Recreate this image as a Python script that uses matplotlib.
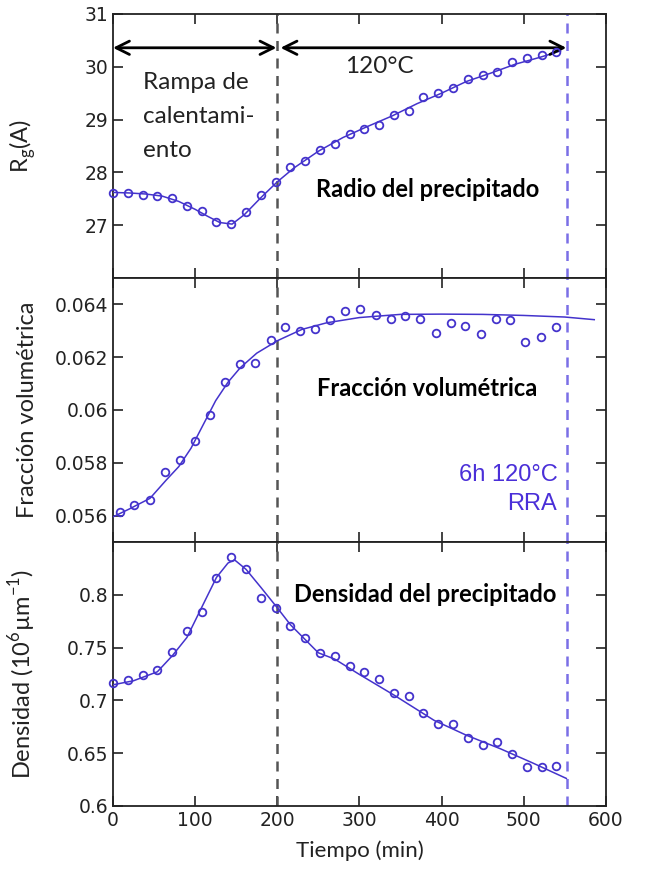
import numpy as np
import matplotlib.pyplot as plt

plt.rcParams['font.family'] = ['DejaVu Sans']

# Radio del precipitado (Rg)
t_rg = [0, 18, 36, 54, 72, 90, 108, 126, 144, 162, 180, 198, 216, 234, 252, 270,
        288, 306, 324, 342, 360, 378, 396, 414, 432, 450, 468, 486, 504, 522, 540]
rg = [27.60, 27.60, 27.58, 27.56, 27.52, 27.36, 27.27, 27.06, 27.03, 27.24, 27.57,
      27.81, 28.10, 28.22, 28.43, 28.54, 28.73, 28.82, 28.89, 29.08, 29.17, 29.42,
      29.51, 29.59, 29.76, 29.84, 29.91, 30.09, 30.16, 30.22, 30.28]
t_rg_fit = [0, 20, 40, 60, 80, 100, 115, 130, 145, 160, 180, 200, 220, 250, 280,
            310, 340, 370, 400, 430, 460, 490, 520, 545]
rg_fit = [27.62, 27.61, 27.59, 27.55, 27.45, 27.30, 27.17, 27.05, 27.02, 27.20, 27.52,
          27.82, 28.08, 28.40, 28.66, 28.87, 29.07, 29.30, 29.50, 29.72, 29.88, 30.05,
          30.18, 30.30]

# Fraccion volumetrica
t_fv = [8, 26, 45, 63, 81, 100, 118, 136, 155, 173, 192, 210, 228, 246, 264, 283,
        301, 320, 338, 356, 374, 393, 411, 429, 448, 466, 484, 502, 521, 539]
fv = [0.05615, 0.05638, 0.05660, 0.05764, 0.05810, 0.05883, 0.05980, 0.06107,
      0.06174, 0.06178, 0.06265, 0.06315, 0.06298, 0.06305, 0.06339, 0.06375,
      0.06381, 0.06358, 0.06345, 0.06357, 0.06345, 0.06293, 0.06329, 0.06319,
      0.06288, 0.06345, 0.06340, 0.06258, 0.06277, 0.06316]
t_fv_fit = [0, 20, 45, 65, 80, 95, 110, 125, 140, 155, 175, 200, 230, 260, 300,
            350, 400, 450, 500, 550, 586]
fv_fit = [0.05595, 0.05625, 0.05665, 0.05735, 0.05785, 0.05855, 0.05945, 0.06035,
          0.06105, 0.06160, 0.06215, 0.06262, 0.06305, 0.06330, 0.06350, 0.06362,
          0.06363, 0.06362, 0.06358, 0.06352, 0.06342]

# Densidad del precipitado
t_nv = t_rg
nv = [0.7162, 0.7194, 0.7241, 0.7289, 0.7456, 0.7652, 0.7832, 0.8155, 0.8354,
      0.8247, 0.7968, 0.7874, 0.7703, 0.7592, 0.7447, 0.7415, 0.7327, 0.7270,
      0.7200, 0.7068, 0.7036, 0.6878, 0.6777, 0.6774, 0.6647, 0.6578, 0.6603,
      0.6496, 0.6372, 0.6366, 0.6375]
t_nv_fit = [0, 25, 54, 72, 90, 108, 126, 140, 148, 162, 180, 198, 216, 250, 270,
            300, 342, 391, 430, 472, 510, 552]
nv_fit = [0.7147, 0.7185, 0.727, 0.742, 0.7595, 0.788, 0.8164, 0.830, 0.833, 0.824,
          0.807, 0.7896, 0.7716, 0.745, 0.739, 0.7245, 0.705, 0.681, 0.667, 0.654,
          0.641, 0.626]

blue = '#4433cc'
purple = '#7a6fe6'
dark = '#222222'
label_font = ['Lato', 'DejaVu Sans']

fig, axes = plt.subplots(3, 1, figsize=(6.57, 8.75), dpi=100, sharex=True)
fig.subplots_adjust(left=0.172, right=0.922, top=0.984, bottom=0.079, hspace=0)

panels = [
    (t_rg, rg, t_rg_fit, rg_fit, (26, 31), [27, 28, 29, 30, 31], ['27', '28', '29', '30', '31'], 'R$_\\mathregular{g}$(A)'),
    (t_fv, fv, t_fv_fit, fv_fit, (0.055, 0.065), [0.056, 0.058, 0.060, 0.062, 0.064],
     ['0.056', '0.058', '0.06', '0.062', '0.064'], 'Fracción volumétrica'),
    (t_nv, nv, t_nv_fit, nv_fit, (0.6, 0.85), [0.6, 0.65, 0.7, 0.75, 0.8],
     ['0.6', '0.65', '0.7', '0.75', '0.8'], 'Densidad (10$^\\mathregular{6}$µm$^\\mathregular{-1}$)'),
]

for ax, (tx, ty, fx, fy, ylim, yt, ytl, ylab) in zip(axes, panels):
    ax.plot(fx, fy, color=blue, lw=1.1, zorder=3)
    ax.plot(tx, ty, 'o', mfc='none', mec=blue, ms=5.5, mew=1.3, zorder=4, clip_on=False)
    ax.axvline(200, color='#555555', ls=(0, (4, 3)), lw=1.8)
    ax.axvline(553, color=purple, ls=(0, (4, 3)), lw=1.8)
    ax.set_xlim(0, 600)
    ax.set_ylim(*ylim)
    ax.set_yticks(yt)
    ax.set_yticklabels(ytl)
    ax.set_ylabel(ylab, fontsize=17, family=label_font, color=dark)
    ax.yaxis.set_label_coords(-0.152, 0.5)
    ax.tick_params(direction='in', length=7, width=1.2, top=True, right=True,
                   labelsize=13.5, colors=dark)
    for s in ax.spines.values():
        s.set_linewidth(1.3)
        s.set_color(dark)

ax1, ax2, ax3 = axes
ax3.set_xticks([0, 100, 200, 300, 400, 500, 600])
ax3.set_xlabel('Tiempo (min)', fontsize=16, family=label_font, color=dark, labelpad=8)

# panel 1 annotations
ax1.annotate('', xy=(0, 30.36), xytext=(199, 30.36),
             arrowprops=dict(arrowstyle='<->', color='black', lw=2, mutation_scale=24,
                             shrinkA=0, shrinkB=0))
ax1.annotate('', xy=(204, 30.36), xytext=(552, 30.36),
             arrowprops=dict(arrowstyle='<->', color='black', lw=2, mutation_scale=24,
                             shrinkA=0, shrinkB=0))
ax1.text(37, 29.06, 'Rampa de\ncalentami-\nento', fontsize=17.5, family=label_font,
         ha='left', va='center', linespacing=1.75, color=dark)
ax1.text(324, 30.0, '120°C', fontsize=17.5, family=label_font, ha='center', va='center',
         color=dark)
ax1.text(383, 27.67, 'Radio del precipitado', fontsize=17, family=label_font,
         fontweight='bold', ha='center', va='center')

ax2.text(383, 0.0608, 'Fracción volumétrica', fontsize=17, family=label_font,
         fontweight='bold', ha='center', va='center')
ax2.text(541, 0.05752, '6h 120°C', fontsize=17, family='Liberation Sans', ha='right',
         va='center', color='#4a2fd8')
ax2.text(541, 0.05644, 'RRA', fontsize=17, family='Liberation Sans', ha='right',
         va='center', color='#4a2fd8')

ax3.text(380, 0.800, 'Densidad del precipitado', fontsize=17, family=label_font,
         fontweight='bold', ha='center', va='center')

fig.savefig('out.png', dpi=100)
